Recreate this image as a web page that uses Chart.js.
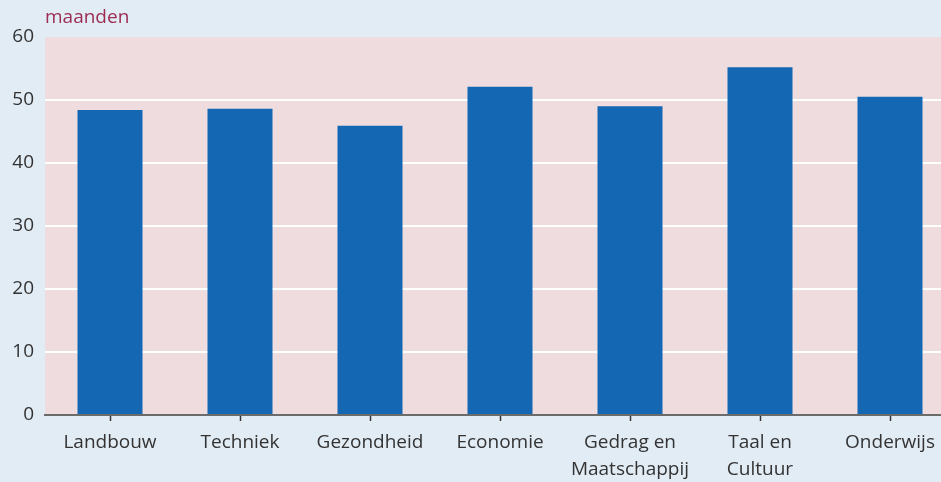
<!doctype html>
<html><head><meta charset="utf-8"/>
<title>maanden</title>
<script src="https://cdn.jsdelivr.net/npm/chart.js@4"></script>
<style>
  html,body{margin:0;padding:0;background:#e2ecf5;overflow:hidden;width:941px;height:482px;}
  #wrap{position:relative;width:955px;height:482px;}
</style></head><body>
<div id="wrap"><canvas id="c" width="955" height="482"></canvas></div>
<script>
// data
const categories = ['Landbouw', 'Techniek', 'Gezondheid', 'Economie', ['Gedrag en', 'Maatschappij'], ['Taal en', 'Cultuur'], 'Onderwijs'];
const months = [48.4, 48.6, 45.9, 52.1, 49.0, 55.2, 50.5];
const unitLabel = 'maanden';
const yMin = 0, yMax = 60, yStep = 10;

const FONT = "'Open Sans', 'DejaVu Sans', sans-serif";

// pink plot background + unit label above the axis
const backdrop = {
  id: 'backdrop',
  beforeDraw(chart) {
    const { ctx, chartArea: a } = chart;
    ctx.save();
    ctx.fillStyle = '#eedcdf';
    ctx.fillRect(a.left, a.top, a.right - a.left, a.bottom - a.top);
    ctx.fillStyle = '#9b2c52';
    ctx.font = `19px ${FONT}`;
    ctx.textBaseline = 'middle';
    ctx.fillText(unitLabel, a.left, 18);
    ctx.restore();
  },
};

new Chart(document.getElementById('c'), {
  type: 'bar',
  data: {
    labels: categories,
    datasets: [{ data: months, backgroundColor: '#1467b3', barPercentage: 0.5, categoryPercentage: 1 }],
  },
  options: {
    responsive: false,
    animation: false,
    layout: { padding: { top: 37, left: 0, right: 0, bottom: 0 } },
    plugins: { legend: { display: false }, tooltip: { enabled: false } },
    scales: {
      x: {
        afterFit: (s) => { s.height = 67; },
        grid: { offset: false, drawOnChartArea: false, drawTicks: true, tickLength: 6, tickColor: '#333', tickWidth: 1.5 },
        border: { color: '#6b6b6b', width: 2 },
        ticks: { color: '#333', font: { family: FONT, size: 19, lineHeight: 1.42 }, padding: 8, maxRotation: 0, autoSkip: false },
      },
      y: {
        min: yMin, max: yMax,
        afterFit: (s) => { s.width = 45; },
        grid: {
          drawTicks: false, lineWidth: 2,
          color: (c) => (c.tick.value > yMin && c.tick.value < yMax ? '#ffffff' : 'rgba(0,0,0,0)'),
        },
        border: { display: false },
        ticks: { stepSize: yStep, color: '#333', font: { family: FONT, size: 19 }, padding: 11 },
      },
    },
  },
  plugins: [backdrop],
});
</script></body></html>
